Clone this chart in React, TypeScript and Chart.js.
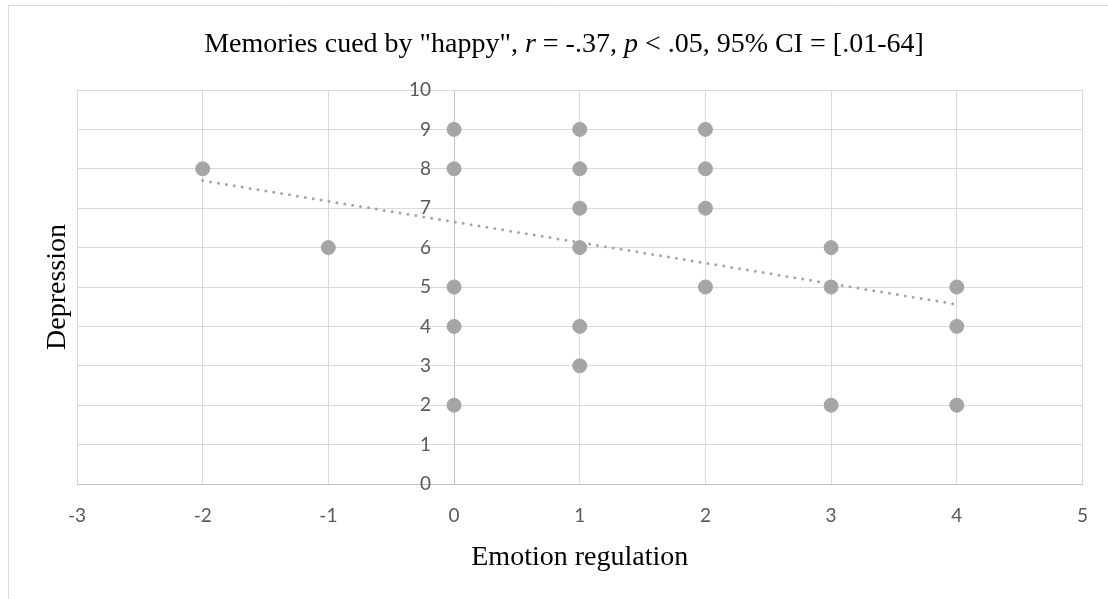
import React, { useEffect, useRef } from "react";
import { Chart, registerables } from "chart.js";

Chart.register(...registerables);

// ---- data ----
const regulationX = [-2, -1, 0, 0, 0, 0, 0, 1, 1, 1, 1, 1, 1, 2, 2, 2, 2, 3, 3, 3, 4, 4, 4];
const depressionY = [8, 6, 9, 8, 5, 4, 2, 9, 8, 7, 6, 4, 3, 9, 8, 7, 5, 6, 5, 2, 5, 4, 2];
const trendX = [-2, 4];
const trendY = [7.7, 4.56];
const xRange = [-3, 5];
const yRange = [0, 10];
const titleParts: [string, boolean][] = [
  ['Memories cued by "happy", ', false],
  ["r", true],
  [" = -.37, ", false],
  ["p", true],
  [" < .05, 95% CI = [.01-64]", false],
];
const xTitle = "Emotion regulation";
const yTitle = "Depression";

const SERIF = '"Liberation Serif", "Times New Roman", serif';
const SANS = 'Lato, "Open Sans", sans-serif';

const framePlugin = {
  id: "frame",
  beforeDraw(chart: any) {
    const { ctx, width, height } = chart;
    ctx.save();
    ctx.fillStyle = "#ffffff";
    ctx.fillRect(0, 0, width, height);
    ctx.strokeStyle = "#d9d9d9";
    ctx.lineWidth = 1;
    ctx.beginPath();
    ctx.moveTo(8.5, height);
    ctx.lineTo(8.5, 5.5);
    ctx.lineTo(width, 5.5);
    ctx.stroke();
    ctx.restore();
  },
};

const titlePlugin = {
  id: "richTitle",
  afterDraw(chart: any) {
    const { ctx } = chart;
    ctx.save();
    ctx.fillStyle = "#000000";
    ctx.textBaseline = "alphabetic";
    ctx.textAlign = "left";
    const fontFor = (it: boolean) => `${it ? "italic " : ""}28px ${SERIF}`;
    let total = 0;
    for (const [t, it] of titleParts) {
      ctx.font = fontFor(it);
      total += ctx.measureText(t).width;
    }
    let x = 564 - total / 2;
    for (const [t, it] of titleParts) {
      ctx.font = fontFor(it);
      ctx.fillText(t, x, 52);
      x += ctx.measureText(t).width;
    }
    ctx.restore();
  },
};

const yLabelPlugin = {
  id: "yLabelsAtZero",
  afterDraw(chart: any) {
    const { ctx } = chart;
    const xs = chart.scales.x;
    const ys = chart.scales.y;
    const x0 = xs.getPixelForValue(0);
    ctx.save();
    ctx.font = `19px ${SANS}`;
    ctx.fillStyle = "#595959";
    ctx.textAlign = "right";
    ctx.textBaseline = "middle";
    for (const t of ys.ticks) {
      ctx.fillText(String(t.value), x0 - 23, ys.getPixelForValue(t.value));
    }
    ctx.restore();
  },
};

export default function App() {
  const ref = useRef<HTMLCanvasElement>(null);
  useEffect(() => {
    if (!ref.current) return;
    const chart = new Chart(ref.current, {
      type: "scatter",
      data: {
        datasets: [
          {
            label: "Trend",
            data: trendX.map((x, i) => ({ x, y: trendY[i] })),
            showLine: true,
            borderColor: "#a5a5a5",
            backgroundColor: "#a5a5a5",
            borderWidth: 3,
            borderDash: [0, 8],
            borderCapStyle: "round",
            pointRadius: 0,
            fill: false,
          } as any,
          {
            label: "Depression",
            data: regulationX.map((x, i) => ({ x, y: depressionY[i] })),
            backgroundColor: "#a5a5a5",
            borderColor: "#a5a5a5",
            borderWidth: 1,
            pointRadius: 7,
          },
        ],
      },
      options: {
        animation: false,
        responsive: false,
        devicePixelRatio: 1,
        layout: { padding: { top: 90, right: 25, left: 0, bottom: 0 } },
        plugins: {
          legend: { display: false },
          title: { display: false },
          tooltip: { enabled: false },
        },
        scales: {
          x: {
            type: "linear",
            position: "bottom",
            min: xRange[0],
            max: xRange[1],
            ticks: {
              stepSize: 1,
              font: { family: SANS, size: 19 },
              color: "#595959",
              padding: 20,
              maxRotation: 0,
            },
            grid: {
              color: (c: any) => (c.tick && c.tick.value === 0 ? "#bfbfbf" : "#d9d9d9"),
              lineWidth: 1,
              drawTicks: false,
            },
            border: { display: true, color: "#bfbfbf", width: 1 },
            title: {
              display: true,
              text: xTitle,
              color: "#000000",
              font: { family: SERIF, size: 28 },
              padding: { top: 0, bottom: 25 },
            },
            afterFit: (s: any) => {
              s.height = 115;
            },
          },
          y: {
            type: "linear",
            position: "left",
            min: yRange[0],
            max: yRange[1],
            ticks: { display: false, stepSize: 1 },
            grid: {
              color: (c: any) => (c.tick && c.tick.value === 0 ? "#bfbfbf" : "#d9d9d9"),
              lineWidth: 1,
              drawTicks: false,
            },
            border: { display: false },
            title: {
              display: true,
              text: yTitle,
              color: "#000000",
              font: { family: SERIF, size: 28 },
              padding: { top: 41, bottom: 0 },
            },
            afterFit: (s: any) => {
              s.width = 77;
            },
          },
        },
      } as any,
      plugins: [framePlugin, titlePlugin, yLabelPlugin],
    });
    return () => chart.destroy();
  }, []);
  return (
    <canvas
      ref={ref}
      width={1108}
      height={599}
      style={{ position: "absolute", left: 0, top: 0, display: "block" }}
    />
  );
}
